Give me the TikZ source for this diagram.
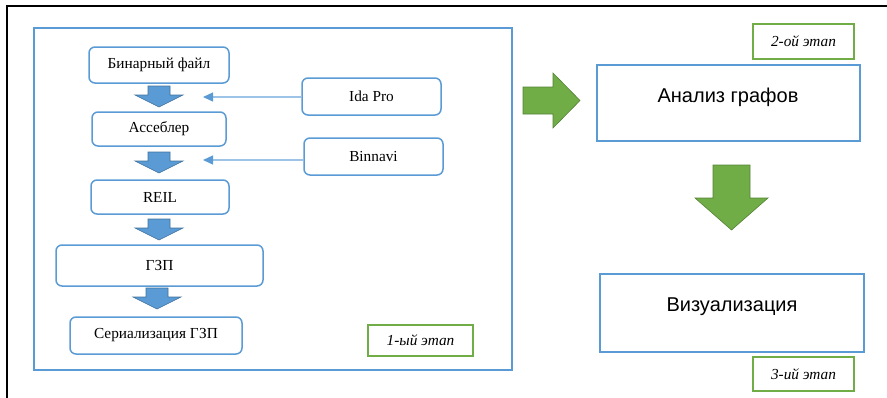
\documentclass[tikz,border=0pt]{standalone}
\usepackage{fontspec}
\setmainfont{Liberation Serif}
\newfontfamily\arialfont{Liberation Sans}
\usetikzlibrary{arrows.meta}
\definecolor{boxblue}{HTML}{5B9BD5}
\definecolor{boxblueline}{HTML}{41719C}
\definecolor{lineblue}{HTML}{9DC3E6}
\definecolor{stagegreen}{HTML}{70AD47}
\definecolor{stagegreenline}{HTML}{548235}

% down-pointing block arrow: centre x, shaft half width, head half width,
% top y, head base y, tip y, fill colour, outline colour
\newcommand\dnblock[8]{%
  \filldraw[fill=#7,draw=#8,line width=0.6pt]
    (#1-#2,#4) -- (#1+#2,#4) -- (#1+#2,#5) -- (#1+#3,#5) -- (#1,#6)
    -- (#1-#3,#5) -- (#1-#2,#5) -- cycle;}

% text sitting a little above the middle of a large box
\newcommand\upper[1]{\raisebox{6pt}[\height][\depth]{#1}}

\tikzset{
  stepbox/.style={draw=boxblue, line width=1.5pt, rounded corners=6pt, fill=white,
    font=\fontsize{15.3}{18}\selectfont, inner sep=0pt},
  bigbox/.style={draw=boxblue, line width=2pt, fill=white, inner sep=0pt,
    font=\arialfont\fontsize{20}{24}\selectfont},
  stagebox/.style={draw=stagegreen, line width=2pt, fill=white, inner sep=0pt,
    font=\itshape\fontsize{15.3}{18}\selectfont},
  toolarrow/.style={draw=lineblue, line width=1.3pt,
    -{Triangle[length=10pt,width=9pt,color=boxblue]}},
}

\begin{document}
\begin{tikzpicture}[x=1pt,y=-1pt]
\useasboundingbox (0,0) rectangle (887,397);

% page frame
\draw[line width=2pt] (7,398) -- (7,6) -- (888,6);

% first stage frame
\node[draw=boxblue, line width=2pt, minimum width=478pt, minimum height=342pt,
  inner sep=0pt] (stage1) at (273,199) {};

% pipeline of the first stage
\node[stepbox, minimum width=140pt, minimum height=36pt] (bin)  at (159,65)    {Бинарный файл};
\node[stepbox, minimum width=134pt, minimum height=34pt] (asm)  at (159,129)   {Ассеблер};
\node[stepbox, minimum width=138pt, minimum height=34pt] (reil) at (160,197)   {REIL};
\node[stepbox, minimum width=207pt, minimum height=41pt] (gzp)  at (159.5,265.5) {ГЗП};
\node[stepbox, minimum width=172pt, minimum height=37pt] (ser)  at (156,335.5) {Сериализация ГЗП};

\dnblock{159}{11}{24}{86}{95}{107}{boxblue}{boxblueline}
\dnblock{159}{11}{24}{152}{161}{173}{boxblue}{boxblueline}
\dnblock{159}{11}{24}{219}{228}{240}{boxblue}{boxblueline}
\dnblock{157}{11}{24}{288}{297}{309}{boxblue}{boxblueline}

% tools feeding the pipeline
\node[stepbox, minimum width=139pt, minimum height=37pt] (ida)  at (371.5,96.5)  {Ida Pro};
\node[stepbox, minimum width=139pt, minimum height=37pt] (binn) at (373.5,156.5) {Binnavi};
\coordinate (idaend) at (203,97);
\coordinate (binnend) at (203,160);
\draw[toolarrow] (ida.west |- idaend) -- (idaend);
\draw[toolarrow] (binn.west |- binnend) -- (binnend);

\node[stagebox, minimum width=105pt, minimum height=31pt] (lbl1) at (420.5,340.5) {1-ый этап};

% second and third stages
\node[bigbox, minimum width=263pt, minimum height=76pt] (graph) at (728,103) {\upper{Анализ графов}};
\node[bigbox, minimum width=264pt, minimum height=78pt] (vis)   at (732,313) {\upper{Визуализация}};
\node[stagebox, minimum width=101pt, minimum height=35pt] (lbl2) at (803.5,41.5) {2-ой этап};
\node[stagebox, minimum width=101pt, minimum height=34pt] (lbl3) at (803.5,374)  {3-ий этап};

% green block arrows between the stages
\filldraw[fill=stagegreen, draw=stagegreenline, line width=0.6pt]
  (523,87) -- (553,87) -- (553,73) -- (580,100.5) -- (553,128) -- (553,114) -- (523,114) -- cycle;
\dnblock{731.5}{18.5}{36.5}{165}{198}{230}{stagegreen}{stagegreenline}
\end{tikzpicture}
\end{document}
